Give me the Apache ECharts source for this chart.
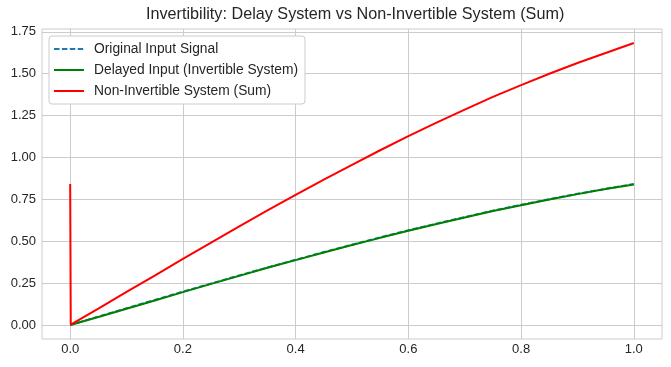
<!DOCTYPE html>
<html>
<head>
<meta charset="utf-8">
<script src="https://cdn.jsdelivr.net/npm/echarts@6/dist/echarts.min.js"></script>
<style>
html,body{margin:0;padding:0;background:#fff;}
#chart{width:671px;height:367px;}
</style>
</head>
<body>
<div id="chart"></div>
<script>
// Sample times
const times = [0, 0.05, 0.1, 0.15, 0.2, 0.25, 0.3, 0.35, 0.4, 0.45, 0.5, 0.55, 0.6, 0.65, 0.7, 0.75, 0.8, 0.85, 0.9, 0.95, 1.0];
// Original Input Signal
const originalValues = [0, 0.050, 0.100, 0.149, 0.199, 0.247, 0.296, 0.343, 0.389, 0.435, 0.479, 0.523, 0.565, 0.605, 0.644, 0.682, 0.717, 0.751, 0.783, 0.813, 0.841];
// Delayed Input (Invertible System)
const delayedValues = [0, 0.047, 0.097, 0.146, 0.196, 0.245, 0.293, 0.341, 0.387, 0.432, 0.477, 0.520, 0.562, 0.603, 0.642, 0.680, 0.715, 0.749, 0.781, 0.811, 0.839];
// Non-Invertible System (Sum)
const sumTimes = [0, 0.001, 0.05, 0.1, 0.15, 0.2, 0.25, 0.3, 0.35, 0.4, 0.45, 0.5, 0.55, 0.6, 0.65, 0.7, 0.75, 0.8, 0.85, 0.9, 0.95, 1.0];
const sumValues = [0.841, 0.002, 0.097, 0.197, 0.295, 0.394, 0.492, 0.589, 0.684, 0.776, 0.867, 0.956, 1.043, 1.127, 1.208, 1.286, 1.362, 1.432, 1.500, 1.564, 1.624, 1.683];
// Tick labels
const xTicks = [0, 0.2, 0.4, 0.6, 0.8, 1.0];
const yTicks = [0, 0.25, 0.5, 0.75, 1.0, 1.25, 1.5, 1.75];

const zip = (a, b) => a.map((v, i) => [v, b[i]]);
const chart = echarts.init(document.getElementById('chart'), null, {renderer: 'canvas'});
const font = 'Liberation Sans, Arial, sans-serif';
const axisCommon = {
  axisLine: {show: true, lineStyle: {color: '#cccccc', width: 1}},
  splitLine: {show: true, lineStyle: {color: '#cccccc', width: 1}},
};
chart.setOption({
  animation: false,
  backgroundColor: '#ffffff',
  title: {
    text: 'Invertibility: Delay System vs Non-Invertible System (Sum)',
    left: 141, top: 2,
    textStyle: {fontFamily: font, fontSize: 16.2, fontWeight: 'normal', color: '#262626'}
  },
  grid: {left: 42, right: 9, top: 29, bottom: 28, containLabel: false,
         show: true, borderColor: '#cccccc', borderWidth: 1},
  legend: {
    orient: 'vertical', left: 49, top: 36,
    backgroundColor: '#ffffff', borderColor: '#cccccc', borderWidth: 1, borderRadius: 3,
    padding: [6, 7, 6, 4], itemGap: 7, itemWidth: 30, itemHeight: 2,
    itemStyle: {opacity: 0},
    textStyle: {fontFamily: font, fontSize: 13.8, color: '#262626', padding: [0, 0, 0, 5]},
    data: ['Original Input Signal', 'Delayed Input (Invertible System)', 'Non-Invertible System (Sum)']
  },
  xAxis: Object.assign({}, axisCommon, {
    type: 'value', min: -0.05, max: 1.05,
    axisTick: {show: false, customValues: xTicks},
    axisLabel: {customValues: xTicks, fontFamily: font, fontSize: 13, color: '#262626', margin: 4,
                formatter: v => v.toFixed(1)},
  }),
  yAxis: Object.assign({}, axisCommon, {
    type: 'value', min: -0.084, max: 1.767,
    axisTick: {show: false, customValues: yTicks},
    axisLabel: {customValues: yTicks, fontFamily: font, fontSize: 13, color: '#262626', margin: 6,
                formatter: v => v.toFixed(2)},
  }),
  series: [
    {name: 'Original Input Signal', type: 'line', data: zip(times, originalValues), symbol: 'none',
     lineStyle: {color: '#1f77b4', width: 2, type: [5.5, 2.4]}, itemStyle: {color: '#1f77b4'}, z: 2},
    {name: 'Delayed Input (Invertible System)', type: 'line', data: zip(times, delayedValues), symbol: 'none',
     lineStyle: {color: '#008000', width: 2}, itemStyle: {color: '#008000'}, z: 3},
    {name: 'Non-Invertible System (Sum)', type: 'line', data: zip(sumTimes, sumValues), symbol: 'none',
     lineStyle: {color: '#ff0000', width: 2}, itemStyle: {color: '#ff0000'}, z: 4},
  ]
});
</script>
</body>
</html>
